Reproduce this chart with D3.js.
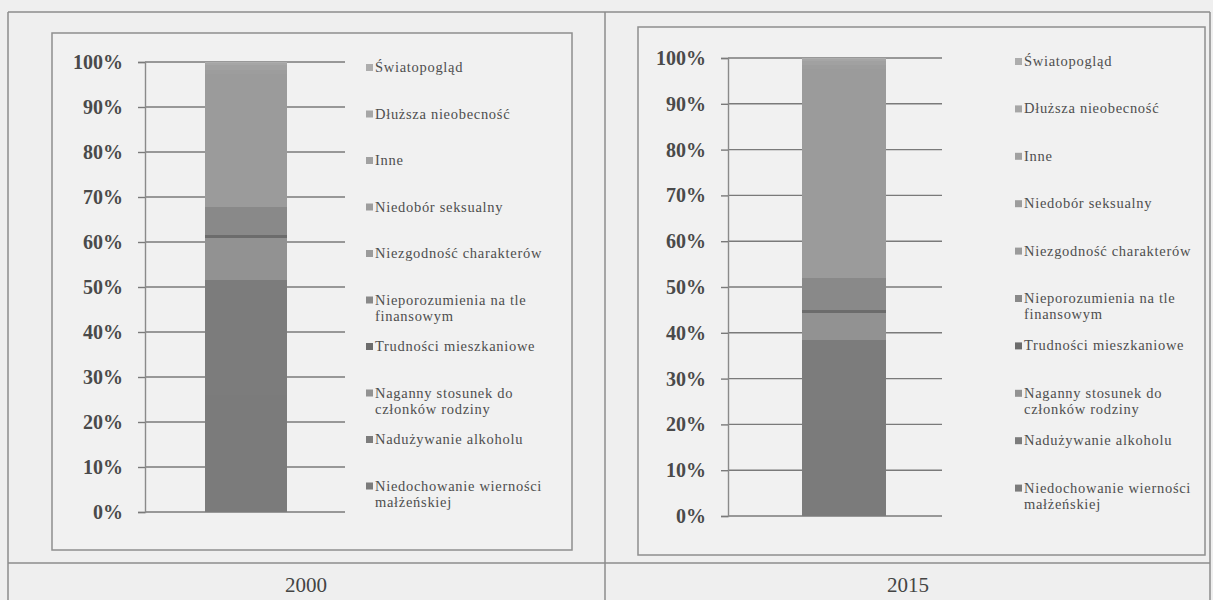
<!DOCTYPE html>
<html>
<head>
<meta charset="utf-8">
<script src="https://cdn.jsdelivr.net/npm/d3@7"></script>
<style>
  html, body { margin: 0; padding: 0; background: #efefef; }
  svg { display: block; }
</style>
</head>
<body>
<svg id="fig" width="1213" height="600"></svg>
<script>
// Divorce causes, share of all divorces (stacked bottom → top)
const categories = [
  "Niedochowanie wierności małżeńskiej",
  "Nadużywanie alkoholu",
  "Naganny stosunek do członków rodziny",
  "Trudności mieszkaniowe",
  "Nieporozumienia na tle finansowym",
  "Niezgodność charakterów",
  "Niedobór seksualny",
  "Inne",
  "Dłuższa nieobecność",
  "Światopogląd"
];
const years = ["2000", "2015"];
const values2000 = [26.0, 25.5, 9.3, 0.8, 6.2, 29.5, 0.9, 1.1, 0.5, 0.2];
const values2015 = [21.0, 17.4, 5.9, 0.7, 7.0, 45.5, 1.0, 0.8, 0.5, 0.2];
const tickValues = [0, 10, 20, 30, 40, 50, 60, 70, 80, 90, 100];

// grey shades for the series, bottom → top
const shades = ["#7b7b7b", "#7c7c7c", "#929292", "#6c6c6c", "#898989",
                "#9b9b9b", "#9d9d9d", "#a1a1a1", "#a6a6a6", "#adadad"];

const svg = d3.select("#fig");
const frame = "#8c8c8c";

// outer table
const table = svg.append("g").attr("stroke", frame).attr("stroke-width", 1.5).attr("fill", "none");
table.append("line").attr("x1", 8).attr("x2", 1210).attr("y1", 12).attr("y2", 12);
table.append("line").attr("x1", 8).attr("x2", 1210).attr("y1", 563).attr("y2", 563);
table.append("line").attr("x1", 8).attr("x2", 8).attr("y1", 12).attr("y2", 600);
table.append("line").attr("x1", 605).attr("x2", 605).attr("y1", 12).attr("y2", 600);
table.append("line").attr("x1", 1210).attr("x2", 1210).attr("y1", 12).attr("y2", 600);

const panels = [
  { year: years[0], values: values2000,
    box: [52, 33, 572, 550], axisX: 145, gridEnd: 345, top: 62, bottom: 512,
    bar: [205, 287], legendX: 366, legendY0: 72, legendStep: 46.5, cellMid: 306 },
  { year: years[1], values: values2015,
    box: [638, 27, 1205, 555], axisX: 728, gridEnd: 942, top: 58, bottom: 516,
    bar: [802, 886], legendX: 1015, legendY0: 66, legendStep: 47.4, cellMid: 908 }
];

const serif = "'Liberation Serif', 'DejaVu Serif', serif";

panels.forEach(p => {
  const g = svg.append("g");

  // chart box
  g.append("rect")
    .attr("x", p.box[0]).attr("y", p.box[1])
    .attr("width", p.box[2] - p.box[0]).attr("height", p.box[3] - p.box[1])
    .attr("fill", "#f1f1f1").attr("stroke", "#8e8e8e").attr("stroke-width", 1.5);

  const y = d3.scaleLinear().domain([0, 100]).range([p.bottom, p.top]);
  const x = d3.scaleBand().domain([p.year]).range([p.bar[0], p.bar[1]]).padding(0);

  // gridlines
  g.append("g").selectAll("line").data(tickValues).join("line")
    .attr("x1", p.axisX).attr("x2", p.gridEnd)
    .attr("y1", d => y(d)).attr("y2", d => y(d))
    .attr("stroke", "#7a7a7a").attr("stroke-width", 1.4);

  // y axis
  const axis = g.append("g").attr("transform", `translate(${p.axisX},0)`)
    .call(d3.axisLeft(y).tickValues(tickValues).tickSize(7).tickPadding(15)
      .tickFormat(d => d + "%"));
  axis.select(".domain").attr("stroke", "#8a8a8a").attr("stroke-width", 1.4);
  axis.selectAll(".tick line").attr("stroke", "#7a7a7a").attr("stroke-width", 1.4);
  axis.selectAll(".tick text")
    .attr("font-family", serif).attr("font-size", 20).attr("font-weight", "bold")
    .attr("fill", "#4a4a4a");

  // stacked bar
  const row = { year: p.year };
  categories.forEach((c, i) => row[c] = p.values[i]);
  const stacked = d3.stack().keys(categories)([row]);
  g.append("g").attr("shape-rendering", "crispEdges")
    .selectAll("rect").data(stacked).join("rect")
    .attr("x", x(p.year)).attr("width", x.bandwidth())
    .attr("y", d => y(d[0][1]))
    .attr("height", d => y(d[0][0]) - y(d[0][1]))
    .attr("fill", (d, i) => shades[i]);

  // legend, top entry = last series
  const legendOrder = categories.map((c, i) => i).reverse();
  const leg = g.append("g");
  legendOrder.forEach((ci, k) => {
    const ly = p.legendY0 + k * p.legendStep;
    leg.append("rect")
      .attr("x", p.legendX).attr("y", ly - 8)
      .attr("width", 7).attr("height", 7)
      .attr("fill", shades[ci]);
    const t = leg.append("text")
      .attr("x", p.legendX + 9).attr("y", ly)
      .attr("font-family", serif).attr("font-size", 14.5)
      .attr("letter-spacing", 0.7)
      .attr("fill", "#4e4e4e");
    // wrap long names onto a second line
    const words = categories[ci].split(" ");
    let line = [];
    let tspan = t.append("tspan").attr("x", p.legendX + 9).attr("dy", 0);
    words.forEach(w => {
      line.push(w);
      tspan.text(line.join(" "));
      if (tspan.node().getComputedTextLength() > 182 && line.length > 1) {
        line.pop();
        tspan.text(line.join(" "));
        line = [w];
        tspan = t.append("tspan").attr("x", p.legendX + 9).attr("dy", 16).text(w);
      }
    });
  });

  // year caption under the chart
  svg.append("text")
    .attr("x", p.cellMid).attr("y", 592)
    .attr("text-anchor", "middle")
    .attr("font-family", serif).attr("font-size", 21)
    .attr("fill", "#444")
    .text(p.year);
});
</script>
</body>
</html>
